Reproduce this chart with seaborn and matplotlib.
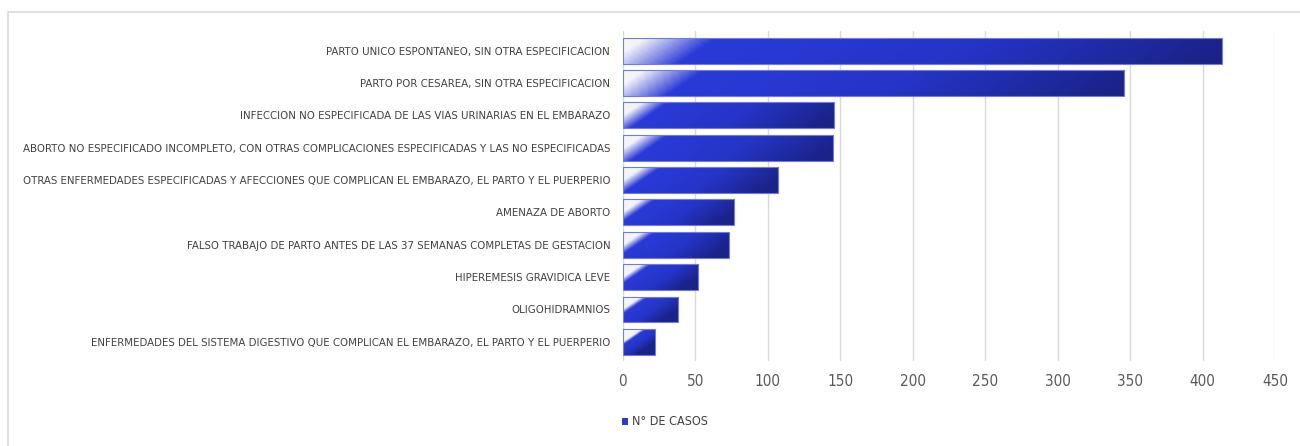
import numpy as np
import pandas as pd
import matplotlib
matplotlib.use("Agg")
import matplotlib.pyplot as plt
import seaborn as sns
from matplotlib import font_manager as fm
from matplotlib.colors import LinearSegmentedColormap
from matplotlib.patches import Rectangle

# datos
diagnosticos = [
    "PARTO UNICO ESPONTANEO, SIN OTRA ESPECIFICACION",
    "PARTO POR CESAREA, SIN OTRA ESPECIFICACION",
    "INFECCION NO ESPECIFICADA DE LAS VIAS URINARIAS EN EL EMBARAZO",
    "ABORTO NO ESPECIFICADO INCOMPLETO, CON OTRAS COMPLICACIONES ESPECIFICADAS Y LAS NO ESPECIFICADAS",
    "OTRAS ENFERMEDADES ESPECIFICADAS Y AFECCIONES QUE COMPLICAN EL EMBARAZO, EL PARTO Y EL PUERPERIO",
    "AMENAZA DE ABORTO",
    "FALSO TRABAJO DE PARTO ANTES DE LAS 37 SEMANAS COMPLETAS DE GESTACION",
    "HIPEREMESIS GRAVIDICA LEVE",
    "OLIGOHIDRAMNIOS",
    "ENFERMEDADES DEL SISTEMA DIGESTIVO QUE COMPLICAN EL EMBARAZO, EL PARTO Y EL PUERPERIO",
]
casos = [413, 346, 146, 145, 107, 77, 73, 52, 38, 22]
ticks_x = [0, 50, 100, 150, 200, 250, 300, 350, 400, 450]

tabela = pd.DataFrame({"diagnostico": diagnosticos, "casos": casos})

sns.set_style("white")
plt.rcParams["font.family"] = ["DejaVu Sans"]

# buscar una fuente estrecha (tipo Calibri / Arial Narrow)
fuente = None
for clave in ["Liberation Sans Narrow", "DejaVu Sans Condensed", "Roboto Condensed",
              "Open Sans Condensed", "Noto Sans Condensed", "Condensed", "Narrow"]:
    for f in fm.fontManager.ttflist:
        nombre = f.name + " " + f.fname
        if clave.replace(" ", "").lower() in nombre.replace(" ", "").lower() \
                and f.style == "normal" and f.weight in (400, "normal", "regular") \
                and "bold" not in f.fname.lower() and "italic" not in f.fname.lower():
            fuente = f.fname
            break
    if fuente:
        break
if fuente is None:
    for f in fm.fontManager.ttflist:
        if f.stretch in ("condensed", "semi-condensed") and f.style == "normal":
            fuente = f.fname
            break

def fp(size):
    if fuente:
        return fm.FontProperties(fname=fuente, size=size)
    return fm.FontProperties(family="DejaVu Sans", size=size * 0.8)

fig = plt.figure(figsize=(13, 4.46), dpi=100)
ax = fig.add_axes([0.479, 0.19, 0.502, 0.74])

sns.barplot(data=tabela, x="casos", y="diagnostico", color="#2a3ad6",
            width=0.8, ax=ax, edgecolor="#6f7be2", linewidth=0.8, zorder=3)

# degradado diagonal en cada barra
cmap = LinearSegmentedColormap.from_list(
    "azul", [(0.0, "#f4f4f8"), (0.12, "#2a3ad8"), (0.55, "#2535c8"), (1.0, "#1a2388")])
nx, ny = 200, 20
xx = np.linspace(0, 1, nx)[None, :]
yy = np.linspace(0, 1, ny)[:, None]
for p in ax.patches:
    x0, y0 = p.get_x(), p.get_y()
    w, h = p.get_width(), p.get_height()
    largo = w / 413
    u = xx + (yy - 0.5) * 0.06 / max(largo, 0.05)
    u = np.clip(u, 0, 1)
    img = ax.imshow(u, cmap=cmap, aspect="auto", extent=(x0, x0 + w, y0 + h, y0),
                    zorder=3.5, vmin=0, vmax=1, interpolation="bilinear")
    img.set_clip_path(p)
    p.set_facecolor("none")
    p.set_zorder(4)

ax.set_xlim(0, 450)
ax.set_ylim(9.6, -0.6)
ax.set_xticks(ticks_x)
ax.set_xlabel("")
ax.set_ylabel("")
ax.grid(axis="x", color="#d9d9d9", linewidth=1, zorder=0)
ax.set_axisbelow(True)
for s in ax.spines.values():
    s.set_visible(False)
ax.tick_params(axis="x", length=0, labelcolor="#595959", pad=9)
ax.tick_params(axis="y", length=0, labelcolor="#404040", pad=9)
for t in ax.get_yticklabels():
    t.set_fontproperties(fp(10))
for t in ax.get_xticklabels():
    t.set_fontproperties(fp(11))

# ajustar si la etiqueta mas larga no cabe
fig.canvas.draw()
ren = fig.canvas.get_renderer()
ancho = max(t.get_window_extent(ren).width for t in ax.get_yticklabels())
if ancho > 592:
    tam = 10 * 592 / ancho
    for t in ax.get_yticklabels():
        t.set_fontsize(tam)

# leyenda
fig.patches.append(Rectangle((0.4785, 0.047), 0.0045, 0.016, transform=fig.transFigure,
                             facecolor="#2a3ad6", edgecolor="none"))
fig.text(0.486, 0.055, "N° DE CASOS", fontproperties=fp(9), color="#404040", va="center")

# marco del grafico
fig.patches.append(Rectangle((0.0065, -0.01), 1.0, 0.983, transform=fig.transFigure,
                             facecolor="none", edgecolor="#d9d9d9", linewidth=1.2))

fig.savefig("out.png", dpi=100)
